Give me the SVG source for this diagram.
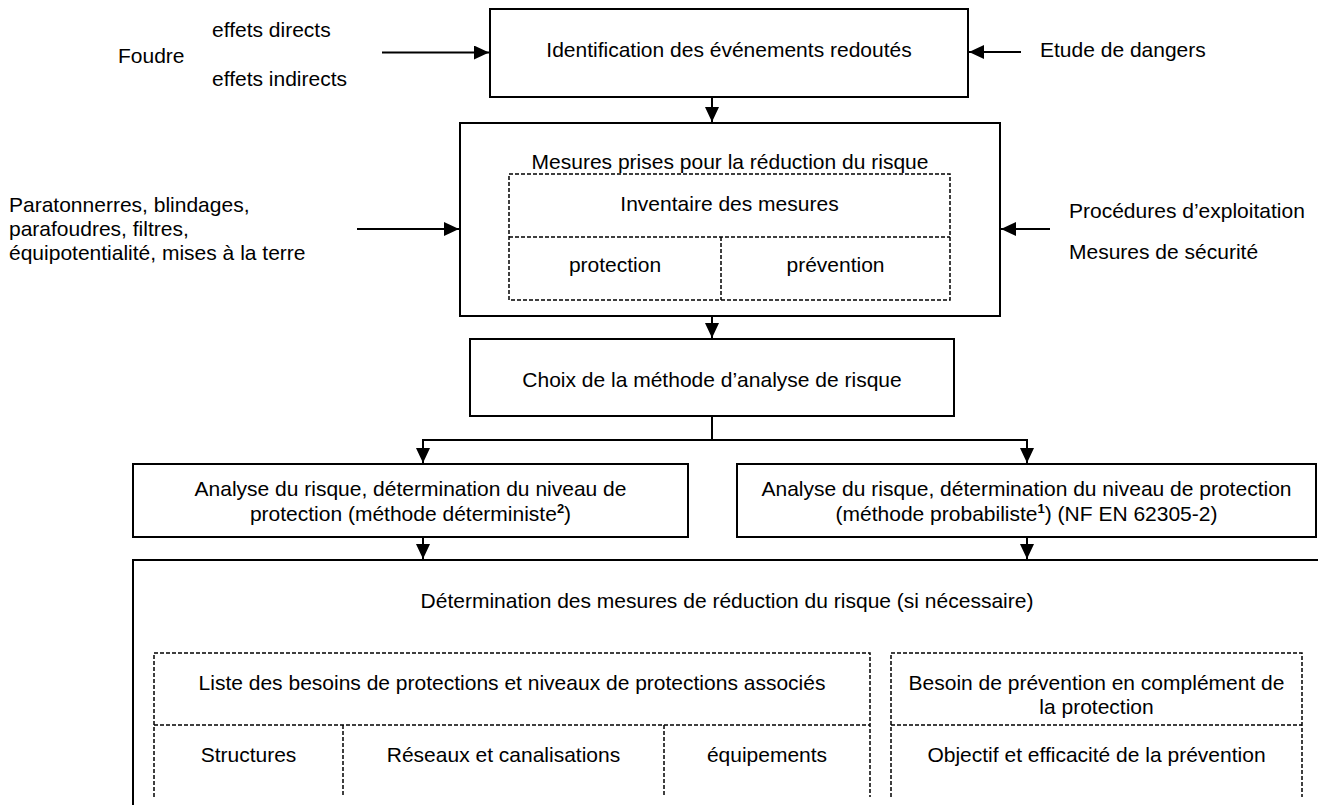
<svg xmlns="http://www.w3.org/2000/svg" width="1318" height="805" viewBox="0 0 1318 805">
<style>
text{font-family:"Liberation Sans",Arial,sans-serif;font-size:21px;fill:#000}
.c{text-anchor:middle}
.box{fill:none;stroke:#000;stroke-width:2}
.dash{fill:none;stroke:#000;stroke-width:1.5;stroke-dasharray:4 2}
.ln{fill:none;stroke:#000;stroke-width:2}
.sup{font-size:13px;font-weight:bold}
</style>
<defs>
<marker id="ah" markerUnits="userSpaceOnUse" markerWidth="16" markerHeight="15" refX="15" refY="7" orient="auto">
<path d="M0,0 L15,7 L0,14 z" fill="#000"/>
</marker>
</defs>
<rect width="1318" height="805" fill="#fff"/>

<g id="inputs-left">
<text x="212" y="37">effets directs</text>
<text x="118" y="62.5">Foudre</text>
<text x="212" y="86">effets indirects</text>
<text x="9" y="212">Paratonnerres, blindages,</text>
<text x="9" y="236">parafoudres, filtres,</text>
<text x="9" y="260">équipotentialité, mises à la terre</text>
</g>

<g id="inputs-right">
<text x="1040" y="57">Etude de dangers</text>
<text x="1069" y="218">Procédures d’exploitation</text>
<text x="1069" y="258.5">Mesures de sécurité</text>
</g>

<g id="node-identification">
<rect class="box" x="490" y="9" width="478" height="88"/>
<text class="c" x="729" y="56.5">Identification des événements redoutés</text>
</g>

<g id="node-mesures">
<rect class="box" x="460" y="123" width="540" height="193"/>
<text class="c" x="730" y="169">Mesures prises pour la réduction du risque</text>
<rect class="dash" x="509" y="174" width="441" height="126"/>
<line class="dash" x1="509" y1="237" x2="950" y2="237"/>
<line class="dash" x1="721" y1="237" x2="721" y2="300"/>
<text class="c" x="729.5" y="210.5">Inventaire des mesures</text>
<text class="c" x="615" y="271.5">protection</text>
<text class="c" x="835.5" y="271.5">prévention</text>
</g>

<g id="node-choix">
<rect class="box" x="470" y="339" width="484" height="77"/>
<text class="c" x="712" y="387">Choix de la méthode d’analyse de risque</text>
</g>

<g id="node-deterministe">
<rect class="box" x="133" y="464" width="555" height="73"/>
<text class="c" x="410.5" y="495.5">Analyse du risque, détermination du niveau de</text>
<text class="c" x="410.5" y="521">protection (méthode déterministe<tspan class="sup" dy="-8">2</tspan><tspan dy="8">)</tspan></text>
</g>

<g id="node-probabiliste">
<rect class="box" x="737" y="464" width="579" height="73"/>
<text class="c" x="1026.5" y="495.5">Analyse du risque, détermination du niveau de protection</text>
<text class="c" x="1026.5" y="521">(méthode probabiliste<tspan class="sup" dy="-8">1</tspan><tspan dy="8">) (NF EN 62305-2)</tspan></text>
</g>

<g id="node-determination">
<polyline class="ln" points="1320,560 133,560 133,806"/>
<text class="c" x="727" y="608">Détermination des mesures de réduction du risque (si nécessaire)</text>
<polyline class="dash" points="154,797 154,653 870,653 870,797"/>
<line class="dash" x1="154" y1="725" x2="870" y2="725"/>
<line class="dash" x1="343" y1="725" x2="343" y2="797"/>
<line class="dash" x1="664" y1="725" x2="664" y2="797"/>
<text class="c" x="512" y="690">Liste des besoins de protections et niveaux de protections associés</text>
<text class="c" x="248.5" y="762">Structures</text>
<text class="c" x="503.5" y="762">Réseaux et canalisations</text>
<text class="c" x="767" y="762">équipements</text>
<polyline class="dash" points="891,797 891,653 1302,653 1302,797"/>
<line class="dash" x1="891" y1="725" x2="1302" y2="725"/>
<text class="c" x="1096.5" y="690">Besoin de prévention en complément de</text>
<text class="c" x="1096.5" y="713.5">la protection</text>
<text class="c" x="1096.5" y="762">Objectif et efficacité de la prévention</text>
</g>

<g id="connectors">
<line class="ln" x1="382" y1="52.5" x2="489" y2="52.5" marker-end="url(#ah)"/>
<line class="ln" x1="1021" y1="52" x2="969" y2="52" marker-end="url(#ah)"/>
<line class="ln" x1="712" y1="98" x2="712" y2="122" marker-end="url(#ah)"/>
<line class="ln" x1="357" y1="229" x2="459" y2="229" marker-end="url(#ah)"/>
<line class="ln" x1="1050" y1="229" x2="1001" y2="229" marker-end="url(#ah)"/>
<line class="ln" x1="712" y1="317" x2="712" y2="338" marker-end="url(#ah)"/>
<polyline class="ln" points="712,417 712,440"/>
<line class="ln" x1="423" y1="440" x2="1027" y2="440"/>
<line class="ln" x1="423" y1="439" x2="423" y2="463" marker-end="url(#ah)"/>
<line class="ln" x1="1027" y1="439" x2="1027" y2="463" marker-end="url(#ah)"/>
<line class="ln" x1="423" y1="538" x2="423" y2="559" marker-end="url(#ah)"/>
<line class="ln" x1="1027" y1="538" x2="1027" y2="559" marker-end="url(#ah)"/>
</g>
</svg>
